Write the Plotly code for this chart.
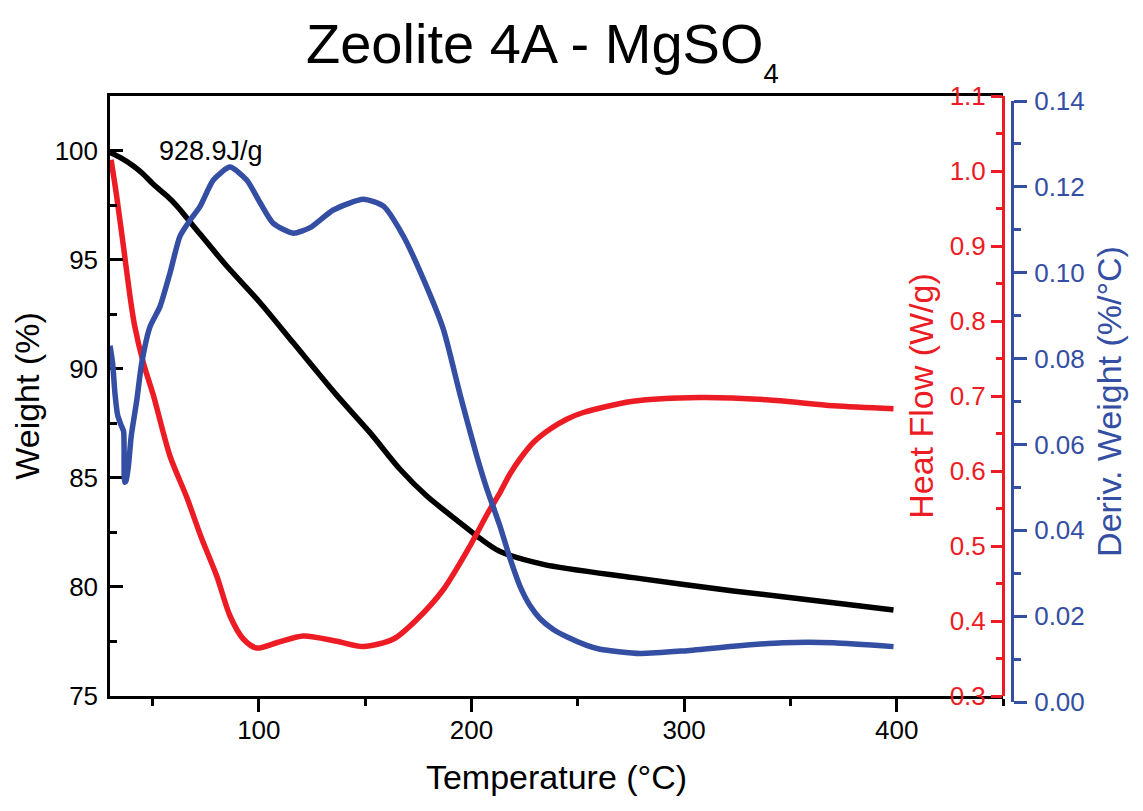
import plotly.graph_objects as go

# ---- data ----
temp_w = [30, 34.7, 41, 45.7, 50.4, 56.7, 61.4, 69.2, 84.9, 100.6, 116.2, 136.6, 152.3, 166.4, 179, 194.6,
          202.5, 213, 233.8, 276.1, 323.2, 370.2, 398.5]
weight = [99.93, 99.70, 99.31, 98.93, 98.47, 97.94, 97.48, 96.56, 94.72, 93.04, 91.2, 88.8, 87.08, 85.40, 84.17,
          82.95, 82.34, 81.65, 81.04, 80.43, 79.82, 79.28, 78.94]

temp_h = [30.5, 33.1, 36.3, 39.4, 41.5, 45.7, 50.4, 58.2, 66.1, 72.7, 80.2, 86.4, 92.7, 99, 108.4, 120.9,
          136.6, 149.1, 163.3, 174.3, 186.8, 199.3, 208.7, 213.4, 218.1, 222.8, 229.1, 237, 244.8, 252.6,
          276.1, 307.5, 338.9, 370.2, 398.5]
heat = [1.015, 0.967, 0.90, 0.833, 0.795, 0.744, 0.701, 0.62, 0.565, 0.513, 0.46, 0.407, 0.376, 0.364, 0.371,
        0.38, 0.373, 0.366, 0.376, 0.402, 0.442, 0.50, 0.549, 0.571, 0.596, 0.616, 0.638, 0.656, 0.669, 0.678,
        0.693, 0.698, 0.695, 0.687, 0.683]

temp_d = [30, 31.2, 32.4, 33.6, 35.2, 36.4, 36.9, 37.5, 38.6, 40, 42.6, 44.9, 48.8, 53.5, 58.2, 62.9,
          67.6, 72.3, 78.6, 86.4, 94.3, 100.6, 106.8, 116.2, 124.1, 135, 149.1, 158.6, 168, 177.4,
          186.8, 194.6, 202.5, 207, 213.4, 218.1, 222.8, 227.6, 232.3, 238.5, 244.8, 254.2, 260.5,
          279.3, 299.7, 323.2, 346.7, 370.2, 398.5]
deriv = [0.083, 0.079, 0.0715, 0.0668, 0.0645, 0.063, 0.0512, 0.0515, 0.0547, 0.062, 0.0703, 0.0789,
         0.0874, 0.0921, 0.0999, 0.1085, 0.1122, 0.1154, 0.1216, 0.1246, 0.1216, 0.1163, 0.1115,
         0.1092, 0.1105, 0.1146, 0.1171, 0.1155, 0.1085, 0.0985, 0.0868, 0.0717, 0.0573, 0.050,
         0.041, 0.0335, 0.027, 0.0224, 0.0194, 0.0169, 0.0152, 0.0132, 0.0123, 0.0113, 0.0119,
         0.0130, 0.0138, 0.0138, 0.0129]

x_ticks = [100, 200, 300, 400]
w_ticks = [75, 80, 85, 90, 95, 100]
enthalpy_label = "928.9J/g"

RED = "#ED1C24"
BLUE = "#344EA3"
FONT = "Arial, Liberation Sans, sans-serif"

# the page body has an 8 px margin, so the figure is drawn 8 px in from the window corner
OFF = 8
W, H = 1143 - OFF, 811 - OFF
L, T = 110 - OFF, 96 - OFF
R = W - (1012 - OFF)
B = H - (702 - OFF)
paper_w = W - L - R
paper_h = H - T - B
x_end = (1003 - 110) / paper_w
y_start = 6 / paper_h
d_top = (702 - 101) / paper_h

fig = go.Figure()
fig.add_trace(go.Scatter(x=temp_d, y=deriv, xaxis="x", yaxis="y3", mode="lines",
                         line=dict(color=BLUE, width=5.5, shape="spline", smoothing=0.6),
                         showlegend=False, hoverinfo="skip"))
fig.add_trace(go.Scatter(x=temp_h, y=heat, xaxis="x", yaxis="y2", mode="lines",
                         line=dict(color=RED, width=5.5, shape="spline", smoothing=0.8),
                         showlegend=False, hoverinfo="skip"))
fig.add_trace(go.Scatter(x=temp_w, y=weight, xaxis="x", yaxis="y", mode="lines",
                         line=dict(color="black", width=5.5, shape="spline", smoothing=0.8),
                         showlegend=False, hoverinfo="skip"))

fig.add_annotation(x=77.5, y=100.0, xref="x", yref="y", text=enthalpy_label, showarrow=False,
                   font=dict(family=FONT, size=27, color="black"))

fig.update_layout(
    width=W, height=H,
    margin=dict(l=L, r=R, t=T, b=B, pad=0, autoexpand=False),
    paper_bgcolor="white", plot_bgcolor="rgba(0,0,0,0)",
    font=dict(family=FONT, color="black"),
    title=dict(text='Zeolite 4A - MgSO<sub><sub>4</sub></sub>',
               font=dict(family=FONT, size=56, color="black"),
               xref="container", yref="container", x=298 / W, xanchor="left",
               y=1 - 35 / H, yanchor="middle", automargin=False),
    xaxis=dict(domain=[0, x_end], range=[30, 450], anchor="y", automargin=False,
               showline=True, linecolor="black", linewidth=2.5, mirror=True,
               showgrid=False, zeroline=False,
               tickvals=x_ticks, ticks="outside", ticklen=13, tickwidth=2.5, tickcolor="black",
               ticklabelstandoff=-4,
               tickfont=dict(family=FONT, size=26, color="black"),
               minor=dict(dtick=50, tick0=0, ticks="outside", ticklen=7, tickwidth=2.5, tickcolor="black"),
               title=dict(text="Temperature (°C)", font=dict(family=FONT, size=34, color="black"), standoff=22)),
    yaxis=dict(domain=[y_start, 1], range=[75, 102.52], anchor="x", side="left", automargin=False,
               showline=True, linecolor="black", linewidth=2.5,
               showgrid=False, zeroline=False,
               tickvals=w_ticks, ticks="inside", ticklen=13, tickwidth=2.5, tickcolor="black",
               ticklabelstandoff=4,
               tickfont=dict(family=FONT, size=26, color="black"),
               minor=dict(dtick=2.5, tick0=0, ticks="inside", ticklen=7, tickwidth=2.5, tickcolor="black"),
               title=dict(text="Weight (%)", font=dict(family=FONT, size=34, color="black"), standoff=7)),
    yaxis2=dict(overlaying="y", anchor="free", position=x_end, side="left", automargin=False,
                range=[0.3, 1.1], showline=True, linecolor=RED, linewidth=3,
                showgrid=False, zeroline=False,
                dtick=0.1, tick0=0, tickformat=".1f", ticks="outside", ticklen=11, tickwidth=2.5, tickcolor=RED,
                tickfont=dict(family=FONT, size=26, color=RED),
                minor=dict(dtick=0.05, tick0=0, ticks="outside", ticklen=6, tickwidth=2.5, tickcolor=RED),
                title=dict(text="Heat Flow (W/g)", font=dict(family=FONT, size=34, color=RED), standoff=4)),
    yaxis3=dict(domain=[0, d_top], anchor="free", position=1.0, side="right", automargin=False,
                range=[0, 0.14], showline=True, linecolor=BLUE, linewidth=3,
                showgrid=False, zeroline=False,
                dtick=0.02, tick0=0, tickformat=".2f", ticks="outside", ticklen=13, tickwidth=2.5, tickcolor=BLUE,
                ticklabelstandoff=2,
                tickfont=dict(family=FONT, size=26, color=BLUE),
                minor=dict(dtick=0.01, tick0=0, ticks="outside", ticklen=7, tickwidth=2.5, tickcolor=BLUE),
                title=dict(text="Deriv. Weight (%/°C)", font=dict(family=FONT, size=34, color=BLUE), standoff=13)),
)

fig.write_html("out.html")
